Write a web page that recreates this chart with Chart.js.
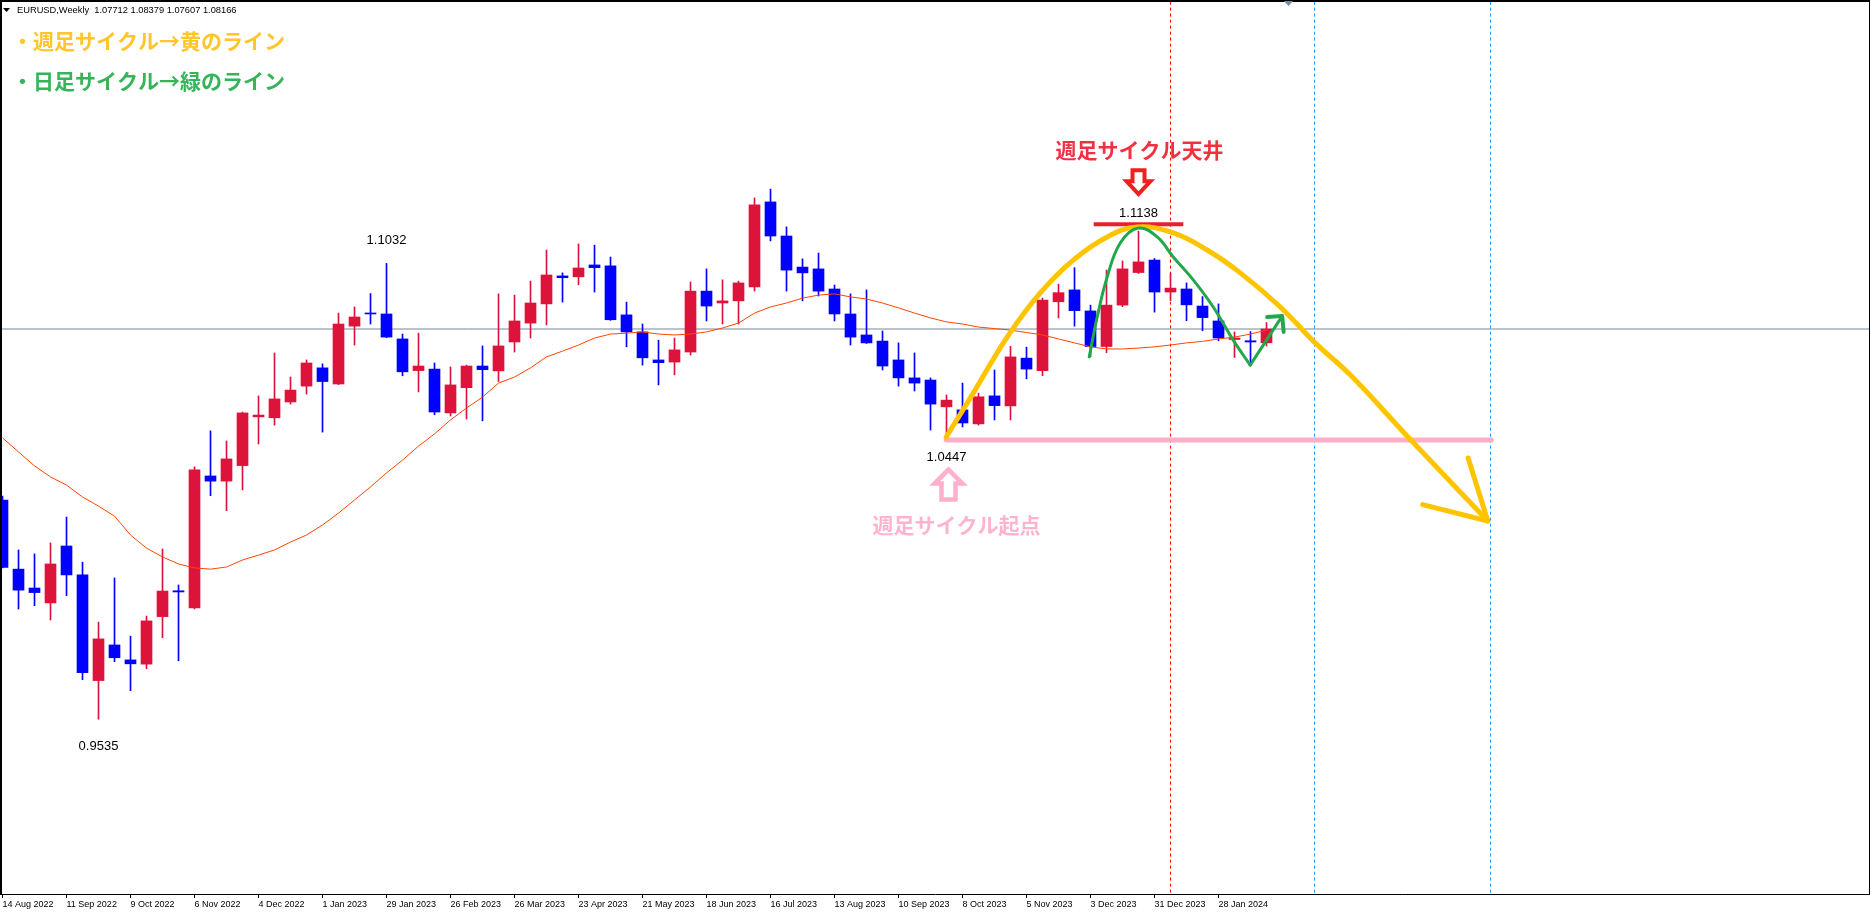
<!DOCTYPE html>
<html>
<head>
<meta charset="utf-8">
<script src="https://cdn.jsdelivr.net/npm/chart.js@4.4.1/dist/chart.umd.min.js"></script>
<style>
html, body { margin: 0; padding: 0; background: #fff; overflow: hidden; }
canvas { display: block; }
</style>
</head>
<body>
<canvas id="chart" width="1871" height="912"></canvas>
<script>
(function(){

    // EURUSD weekly, 14 Aug 2022 .. 18 Feb 2024 (one bar per week)
    const opens  = [1.0255,1.0028,0.9966,0.9917,1.0104,1.0009,0.9662,0.9779,0.9730,0.9716,
                    0.9872,0.9957,0.9901,1.0334,1.0317,1.0368,1.0528,1.0525,1.0577,1.0629,
                    1.0689,1.0636,1.0826,1.0869,1.0866,1.0784,1.0680,1.0685,1.0541,1.0624,
                    1.0695,1.0679,1.0774,1.0836,1.0899,1.0991,1.0988,1.1027,1.1024,1.0863,
                    1.0807,1.0715,1.0708,1.0741,1.0941,1.0902,1.0909,1.0955,1.1234,1.1122,
                    1.1020,1.1014,1.0948,1.0866,1.0797,1.0777,1.0715,1.0656,1.0649,1.0561,
                    1.0551,1.0505,1.0597,1.0564,1.0721,1.0680,1.0906,1.0945,1.0876,1.0759,
                    1.0895,1.1002,1.1043,1.0938,1.0948,1.0892,1.0843,1.0782,1.0778,1.07712];
    const highs  = [1.0268,1.0091,1.0078,1.0114,1.0199,1.0051,0.9854,0.9999,0.9808,0.9874,
                    1.0094,0.9976,1.0364,1.0482,1.0449,1.0544,1.0597,1.0738,1.0659,1.0715,
                    1.0702,1.0869,1.0889,1.0933,1.1032,1.0800,1.0803,1.0705,1.0692,1.0698,
                    1.0761,1.0932,1.0928,1.0974,1.1076,1.1001,1.1096,1.1092,1.1053,1.0905,
                    1.0833,1.0780,1.0787,1.0971,1.1014,1.0978,1.0974,1.1247,1.1276,1.1152,
                    1.1047,1.1066,1.0961,1.0932,1.0945,1.0810,1.0771,1.0738,1.0656,1.0600,
                    1.0639,1.0606,1.0682,1.0760,1.0757,1.0918,1.0964,1.1018,1.0895,1.1010,
                    1.1040,1.1138,1.1048,1.1000,1.0968,1.0923,1.0899,1.0807,1.0808,1.08379];
    const lows   = [1.0032,0.9897,0.9908,0.9861,0.9941,0.9665,0.9535,0.9724,0.9629,0.9701,
                    0.9803,0.9727,0.9897,1.0269,1.0220,1.0288,1.0439,1.0501,1.0570,1.0603,
                    1.0478,1.0634,1.0764,1.0833,1.0788,1.0663,1.0610,1.0535,1.0531,1.0521,
                    1.0515,1.0644,1.0741,1.0787,1.0830,1.0905,1.0962,1.0938,1.0845,1.0758,
                    1.0698,1.0633,1.0666,1.0731,1.0843,1.0833,1.0833,1.0941,1.1106,1.0941,
                    1.0909,1.0925,1.0843,1.0764,1.0769,1.0682,1.0629,1.0613,1.0485,1.0447,
                    1.0495,1.0501,1.0518,1.0518,1.0653,1.0663,1.0853,1.0826,1.0726,1.0739,
                    1.0890,1.0999,1.0872,1.0910,1.0844,1.0811,1.0778,1.0723,1.0705,1.07607];
    const closes = [1.0034,0.9959,0.9951,1.0045,1.0009,0.9688,0.9799,0.9737,0.9717,0.9858,
                    0.9956,0.9953,1.0354,1.0317,1.0390,1.0541,1.0534,1.0587,1.0616,1.0705,
                    1.0644,1.0833,1.0856,1.0866,1.0790,1.0676,1.0695,1.0544,1.0633,1.0695,
                    1.0683,1.0761,1.0843,1.0902,1.0994,1.0985,1.1017,1.1018,1.0847,1.0807,
                    1.0722,1.0706,1.0748,1.0941,1.0892,1.0909,1.0968,1.1224,1.1122,1.1010,
                    1.1001,1.0941,1.0866,1.0790,1.0771,1.0695,1.0656,1.0639,1.0570,1.0583,
                    1.0508,1.0594,1.0565,1.0725,1.0685,1.0912,1.0936,1.0877,1.0759,1.0895,
                    1.1014,1.1037,1.0938,1.0951,1.0896,1.0854,1.0787,1.0787,1.0774,1.08166];

    // moving average (orange line)
    const maValues = [1.0459,1.0413,1.0367,1.0331,1.0304,1.0265,1.0235,1.0202,1.0140,1.0097,
                      1.0068,1.0045,1.0032,1.0028,1.0035,1.0058,1.0074,1.0091,1.0117,1.0140,
                      1.0173,1.0212,1.0255,1.0298,1.0344,1.0386,1.0432,1.0472,1.0518,1.0557,
                      1.0593,1.0639,1.0659,1.0689,1.0725,1.0744,1.0764,1.0787,1.0800,1.0803,
                      1.0807,1.0800,1.0797,1.0800,1.0807,1.0820,1.0836,1.0869,1.0889,1.0902,
                      1.0918,1.0928,1.0932,1.0922,1.0915,1.0902,1.0886,1.0869,1.0853,1.0840,
                      1.0833,1.0823,1.0818,1.0813,1.0805,1.0797,1.0784,1.0771,1.0758,1.0751,
                      1.0751,1.0754,1.0758,1.0764,1.0771,1.0776,1.0784,1.0790,1.0800,1.0813];

    const tickIdx = [0,4,8,12,16,20,24,28,32,36,40,44,48,52,56,60,64,68,72,76];
    const tickLabels = ['14 Aug 2022','11 Sep 2022','9 Oct 2022','6 Nov 2022','4 Dec 2022',
                        '1 Jan 2023','29 Jan 2023','26 Feb 2023','26 Mar 2023','23 Apr 2023',
                        '21 May 2023','18 Jun 2023','16 Jul 2023','13 Aug 2023','10 Sep 2023',
                        '8 Oct 2023','5 Nov 2023','3 Dec 2023','31 Dec 2023','28 Jan 2024'];

    const lastPrice = 1.08166;
    const redVLines = [73];
    const blueVLines = [82, 93];

    // hand drawn lines, in (week index, price)
    const yellowX = [58.98,60.67,62.79,64.86,66.92,69.04,70.92,73.17,75.29,77.36,79.86,82.04,84.23,87.67,89.86,92.83];
    const yellowY = [1.0462,1.0606,1.0790,1.0935,1.1043,1.1119,1.1152,1.1132,1.1076,1.1001,1.0889,1.0771,1.0666,1.0472,1.0350,1.0186];
    const yellowHeadX = [91.6, 92.83, 88.76];
    const yellowHeadY = [1.0393, 1.0186, 1.0240];
    const greenX = [67.92,68.42,69.04,69.86,70.98,72.17,73.17,74.42,75.67,76.92,77.98];
    const greenY = [1.0725,1.0856,1.0987,1.1099,1.1148,1.1119,1.1053,1.0978,1.0889,1.0780,1.0698];
    const greenUpX = [77.98, 79.98];
    const greenUpY = [1.0698, 1.0859];
    const greenHeadX = [79.04, 79.98, 80.07];
    const greenHeadY = [1.0856, 1.0859, 1.0807];
    const pinkX = [58.98, 93.05];
    const pinkY = [1.0452, 1.0452];
    const topX = [68.2, 73.8];
    const topY = [1.1161, 1.1161];

    // price labels on the bars
    const markIdx = [24, 6, 59, 71];
    const markPrice = [1.1032, 0.9535, 1.0447, 1.1138];

    const UP = '#dc143c', DOWN = '#0000ff';
    const weekIdx = opens.map((o, i) => i);
    const candleColors = weekIdx.map(i => closes[i] >= opens[i] ? UP : DOWN);
    const pts = (xs, ys) => xs.map((x, i) => ({ x: x, y: ys[i] }));

    const lineSet = (data, color, width, order, extra) => Object.assign({
        type: 'line', data: data, borderColor: color, borderWidth: width,
        pointRadius: 0, fill: false, tension: 0, order: order,
        borderCapStyle: 'round', borderJoinStyle: 'round'
    }, extra || {});

    const vLine = (i) => [{ x: i, y: 0.8 }, { x: i, y: 1.3 }];

    const datasets = [
        lineSet(pts(greenHeadX, greenHeadY), '#22a84a', 4, 0),
        lineSet(pts(greenUpX, greenUpY), '#22a84a', 3, 1),
        lineSet(pts(greenX, greenY), '#22a84a', 3, 2, { tension: 0.4 }),
        lineSet(pts(yellowHeadX, yellowHeadY), '#ffc400', 5, 3),
        lineSet(pts(yellowX, yellowY), '#ffc400', 5, 4, { tension: 0.4 }),
        lineSet(pts(pinkX, pinkY), '#ffadc8', 5, 5),
        lineSet(pts(topX, topY), '#e8202a', 4, 6, { borderCapStyle: 'butt' }),
        lineSet(weekIdx.map(i => ({ x: i, y: maValues[i] })), '#ff4500', 1, 7, { borderCapStyle: 'butt' }),
        {
            type: 'bar', order: 8, grouped: false, barThickness: 11, minBarLength: 1,
            data: weekIdx.map(i => ({ x: i, y: [opens[i], closes[i]] })),
            backgroundColor: candleColors, borderWidth: 0
        },
        {
            type: 'bar', order: 9, grouped: false, barThickness: 1, minBarLength: 1,
            data: weekIdx.map(i => ({ x: i, y: [lows[i], highs[i]] })),
            backgroundColor: candleColors, borderWidth: 0
        },
        lineSet([{ x: -2, y: lastPrice }, { x: 130, y: lastPrice }], '#778899', 1, 10, { borderCapStyle: 'butt' })
    ];
    redVLines.forEach(i => datasets.push(lineSet(vLine(i), '#ff0000', 1, 11, { borderDash: [3, 3], borderCapStyle: 'butt' })));
    blueVLines.forEach(i => datasets.push(lineSet(vLine(i), '#1e90ff', 1, 11, { borderDash: [3, 3], borderCapStyle: 'butt' })));

    function outlineArrow(ctx, cx, pts, color, width){
        ctx.beginPath();
        pts.forEach((p, k) => k ? ctx.lineTo(cx + p[0], p[1]) : ctx.moveTo(cx + p[0], p[1]));
        ctx.closePath();
        ctx.fillStyle = '#fff';
        ctx.fill();
        ctx.lineWidth = width;
        ctx.strokeStyle = color;
        ctx.lineJoin = 'miter';
        ctx.stroke();
    }

    const notes = {
        id: 'notes',
        afterDatasetsDraw(chart){
            const ctx = chart.ctx;
            const xs = chart.scales.x, ys = chart.scales.y;
            ctx.save();

            // price labels
            const markDy = [-23, 27, 16, -18];
            ctx.font = '13px "Liberation Sans", Arial, sans-serif';
            ctx.fillStyle = '#000';
            ctx.textAlign = 'center';
            ctx.textBaseline = 'middle';
            markIdx.forEach((i, k) => {
                ctx.fillText(markPrice[k].toFixed(4), xs.getPixelForValue(i), ys.getPixelForValue(markPrice[k]) + markDy[k]);
            });

            // top of the weekly cycle
            const tx = xs.getPixelForValue(71), ty = ys.getPixelForValue(1.1138);
            outlineArrow(ctx, tx, [[-6, ty - 61], [6, ty - 61], [6, ty - 50], [12, ty - 50], [0, ty - 37], [-12, ty - 50], [-6, ty - 50]], '#ee2020', 4);
            ctx.font = 'bold 21px "Noto Sans CJK JP", sans-serif';
            ctx.fillStyle = '#ee3340';
            ctx.fillText('週足サイクル天井', tx + 1, ty - 81);

            // start of the weekly cycle
            const bx = xs.getPixelForValue(59) + 2, by = ys.getPixelForValue(1.0447);
            outlineArrow(ctx, bx, [[0, by + 28], [14, by + 42], [7, by + 42], [7, by + 58], [-7, by + 58], [-7, by + 42], [-14, by + 42]], '#ffb0cc', 4.5);
            ctx.fillStyle = '#ffb3cf';
            ctx.fillText('週足サイクル起点', bx + 8, by + 83);

            ctx.restore();
        },
        afterDraw(chart){
            const ctx = chart.ctx;
            const a = chart.chartArea;
            ctx.save();
            ctx.fillStyle = '#000';
            ctx.fillRect(0, 0, 2, a.bottom + 1);
            ctx.fillRect(0, 0, a.right + 1, 2);
            ctx.fillRect(a.right, 0, 1, a.bottom + 1);

            // shift marker
            ctx.fillStyle = '#778899';
            ctx.beginPath();
            ctx.moveTo(1284, 1); ctx.lineTo(1293, 1); ctx.lineTo(1288.5, 6); ctx.closePath();
            ctx.fill();

            // header
            ctx.fillStyle = '#000';
            ctx.beginPath();
            ctx.moveTo(3, 8); ctx.lineTo(10, 8); ctx.lineTo(6.5, 12); ctx.closePath();
            ctx.fill();
            ctx.font = '9.3px "Liberation Sans", Arial, sans-serif';
            ctx.textAlign = 'left';
            ctx.textBaseline = 'middle';
            ctx.fillText('EURUSD,Weekly  1.07712 1.08379 1.07607 1.08166', 17, 10);

            ctx.font = 'bold 21px "Noto Sans CJK JP", sans-serif';
            ctx.fillStyle = '#ffc52a';
            ctx.fillText('・週足サイクル→黄のライン', 12, 41);
            ctx.fillStyle = '#36b45a';
            ctx.fillText('・日足サイクル→緑のライン', 12, 81);
            ctx.restore();
        }
    };

    const ctx = document.getElementById('chart');

    new Chart(ctx, {
        type: 'bar',
        data: { datasets: datasets },
        options: {
            responsive: false,
            animation: false,
            devicePixelRatio: 1,
            events: [],
            layout: { padding: { left: 1, top: 1, right: 2, bottom: 0 } },
            scales: {
                x: {
                    type: 'linear',
                    offset: false,
                    min: -0.094,
                    max: 116.656,
                    afterBuildTicks: s => { s.ticks = tickIdx.map(v => ({ value: v })); },
                    afterFit: s => { s.height = 18; s.paddingLeft = 0; s.paddingRight = 0; },
                    ticks: {
                        autoSkip: false,
                        maxRotation: 0,
                        align: 'start',
                        padding: 1,
                        color: '#000',
                        font: { family: '"Liberation Sans", Arial, sans-serif', size: 9 },
                        callback: v => { const k = tickIdx.indexOf(v); return k < 0 ? '' : tickLabels[k]; }
                    },
                    grid: { drawOnChartArea: false, drawTicks: true, tickLength: 4, color: '#000', offset: false },
                    border: { display: true, color: '#000', width: 1 }
                },
                y: {
                    display: false,
                    min: 0.89611,
                    max: 1.18938
                }
            },
            plugins: {
                legend: { display: false },
                tooltip: { enabled: false }
            }
        },
        plugins: [notes]
    });
})();
</script>
</body>
</html>
